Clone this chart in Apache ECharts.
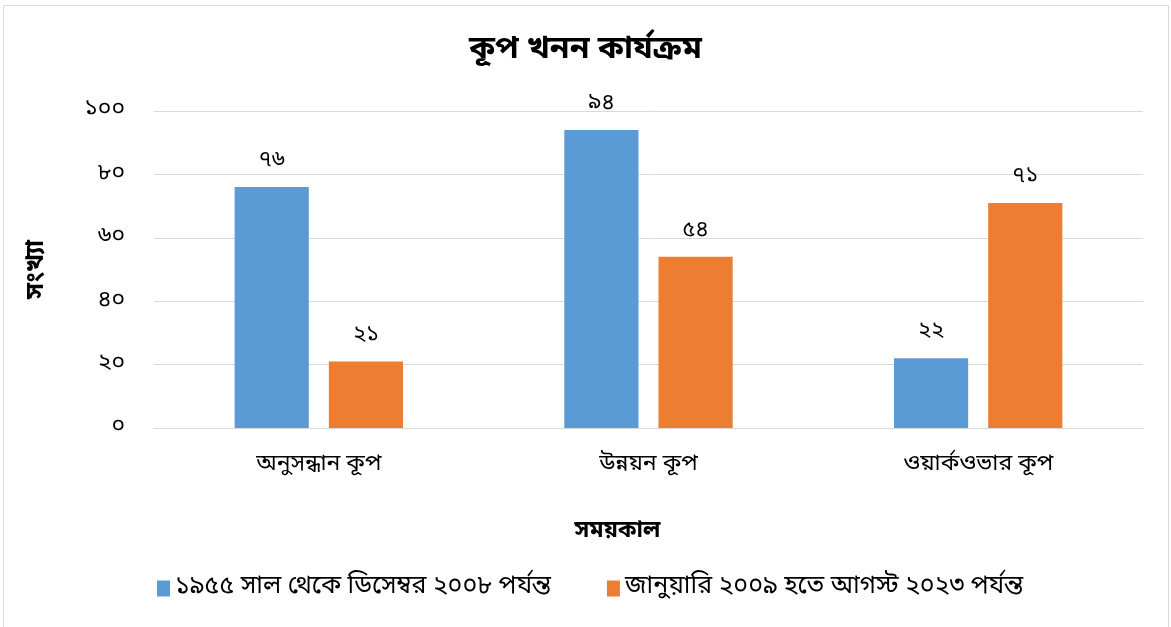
<!DOCTYPE html>
<html>
<head>
<meta charset="utf-8">
<script src="https://cdn.jsdelivr.net/npm/echarts@6/dist/echarts.min.js"></script>
<style>
html,body{margin:0;padding:0;background:#fff;}
#c{width:1171px;height:627px;}
</style>
</head>
<body>
<div id="c"></div>
<script>
const categories = ['অনুসন্ধান কূপ', 'উন্নয়ন কূপ', 'ওয়ার্কওভার কূপ'];
const seriesNames = ['১৯৫৫ সাল থেকে ডিসেম্বর ২০০৮ পর্যন্ত', 'জানুয়ারি ২০০৯ হতে আগস্ট ২০২৩ পর্যন্ত'];
const series1 = [76, 94, 22];
const series2 = [21, 54, 71];
const bnDigits = ['০','১','২','৩','৪','৫','৬','৭','৮','৯'];
function toBn(n){ return String(n).replace(/[0-9]/g, d => bnDigits[+d]); }

const FONT = '"Noto Sans Bengali", "Noto Serif Bengali", "Lohit Bengali", "Noto Sans", sans-serif';
const chart = echarts.init(document.getElementById('c'), null, {renderer:'canvas'});
chart.setOption({
  backgroundColor: '#fff',
  textStyle: {fontFamily: FONT},
  graphic: [{
    type: 'rect', shape: {x: 3.5, y: 5.5, width: 1165, height: 640},
    style: {fill: 'none', stroke: '#d9d9d9', lineWidth: 1}, silent: true, z: -1
  }],
  title: {
    text: 'কূপ খনন কার্যক্রম', left: 'center', top: 31,
    textStyle: {fontFamily: FONT, fontSize: 32, fontWeight: 'bold', color: '#000'}
  },
  legend: {
    data: seriesNames, bottom: 21, left: 152, itemWidth: 13, itemHeight: 16, itemGap: 56,
    icon: 'rect',
    textStyle: {fontFamily: FONT, fontSize: 25, color: '#000'}
  },
  grid: {left: 154, right: 28, top: 111, bottom: 199, containLabel: false},
  xAxis: {
    type: 'category', data: categories,
    name: 'সময়কাল', nameLocation: 'middle', nameGap: 93,
    nameTextStyle: {fontFamily: FONT, fontSize: 23, fontWeight: 'bold', color: '#000', padding: [0, 62, 0, 0]},
    axisLine: {show: true, lineStyle: {color: '#d9d9d9', width: 1}},
    axisTick: {show: false},
    axisLabel: {fontFamily: FONT, fontSize: 23, color: '#000', margin: 26}
  },
  yAxis: {
    type: 'value', min: 0, max: 100, interval: 20,
    name: 'সংখ্যা', nameLocation: 'middle', nameGap: 103, nameRotate: 90,
    nameTextStyle: {fontFamily: FONT, fontSize: 25, fontWeight: 'bold', color: '#000'},
    axisLine: {show: false}, axisTick: {show: false},
    splitLine: {lineStyle: {color: '#d9d9d9', width: 1}},
    axisLabel: {fontFamily: FONT, fontSize: 23, color: '#000', margin: 29, padding: [4, 0, 0, 0], formatter: v => toBn(v)}
  },
  series: [
    {
      name: seriesNames[0], type: 'bar', data: series1, barWidth: '22.5%', barGap: '27%',
      itemStyle: {color: '#5b9bd5'},
      label: {show: true, position: 'top', distance: 14, fontFamily: FONT, fontSize: 22, color: '#000', formatter: p => toBn(p.value)}
    },
    {
      name: seriesNames[1], type: 'bar', data: series2, barWidth: '22.5%',
      itemStyle: {color: '#ed7d31'},
      label: {show: true, position: 'top', distance: 14, fontFamily: FONT, fontSize: 22, color: '#000', formatter: p => toBn(p.value)}
    }
  ]
});
</script>
</body>
</html>
